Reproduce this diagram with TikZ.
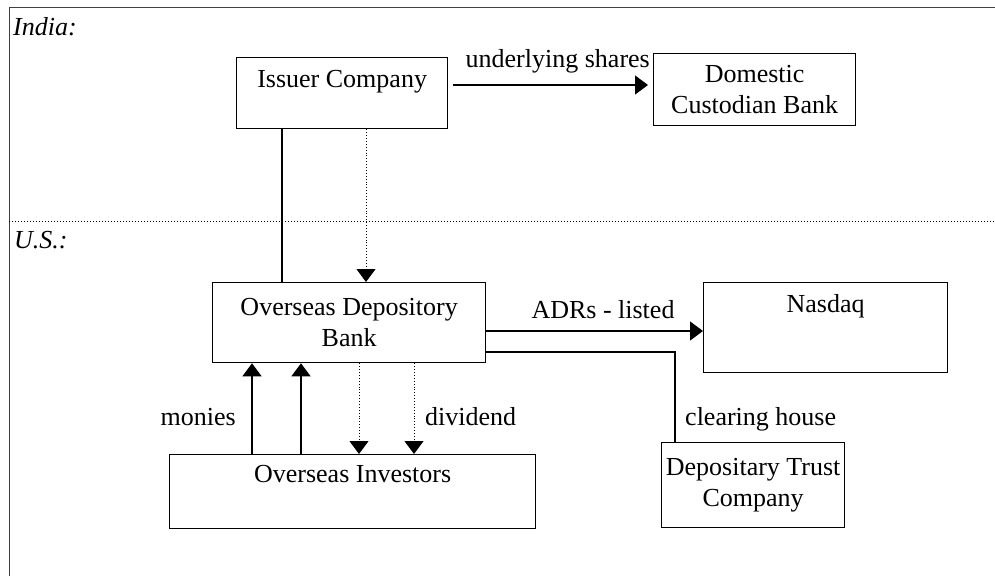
\documentclass[tikz,border=0pt]{standalone}
\usepackage{fontspec}
\setmainfont{Liberation Serif}
\usetikzlibrary{arrows.meta,calc}
\usetikzlibrary{positioning}
\tikzset{box/.style={draw,line width=1.3pt,inner sep=0pt,align=center,anchor=north west},
  conn/.style={line width=1.2pt},
  dots/.style={dotted,line width=0.9pt},
  lbl/.style={inner sep=0pt}}

\begin{document}
\begin{tikzpicture}[x=1pt,y=-1pt,>={Triangle[length=13pt,width=19pt]},line join=miter,font=\fontsize{26}{30.5}\selectfont]
\useasboundingbox (0,0) rectangle (995,576);
% --- frame, India / U.S. split
\draw[line width=1pt,black!75] (995,7) -- (9,7) -- (9,576);
\draw[dotted,line width=1pt] (9,221) -- (995,221);
\node[lbl,anchor=base west,font=\fontsize{26}{30.5}\selectfont\itshape] (india) at (13,35) {India:};
\node[lbl,anchor=base west,font=\fontsize{26}{30.5}\selectfont\itshape] (us) at (14,248) {U.S.:};
% --- boxes
\node[box,minimum width=211pt,text height=30pt,text depth=41pt] (issuer) at (236,57) {Issuer Company};
\node[box,minimum width=202pt,minimum height=72pt] (custodian) at (653,53) {Domestic\\Custodian Bank};
\node[box,minimum width=273pt,minimum height=80pt] (depbank) at (212,282) {Overseas Depository\\Bank};
\node[box,minimum width=244pt,text height=30pt,text depth=60pt] (nasdaq) at (703,282) {Nasdaq};
\node[box,minimum width=183pt,minimum height=85pt] (dtc) at (661,442) {Depositary Trust\\Company};
\node[box,minimum width=366pt,text height=28pt,text depth=46pt] (investors) at (169,454) {Overseas Investors};
% --- India side
\draw[conn,->] ($(issuer.east |- 0,85)+(5,0)$) -- ($(custodian.west |- 0,85)+(-5,0)$);
\node[lbl,anchor=base east] (shares) at (650,67) {underlying shares};
\draw[conn] (issuer.south -| 282,0) -- (depbank.north -| 282,0);
\draw[dots,->] (issuer.south -| 366,0) -- (depbank.north -| 366,0);
% --- U.S. side
\draw[conn,->] (depbank.east |- 0,331) -- (nasdaq.west |- 0,331);
\node[lbl,anchor=base] (listed) at (603,318) {ADRs - listed};
\draw[conn] (depbank.east |- 0,352) -| (dtc.north -| 675,0);
\node[lbl,anchor=base west] (clearing) at (685,425) {clearing house};
\foreach \x in {252,301} \draw[conn,->] (investors.north -| \x,0) -- (depbank.south -| \x,0);
\foreach \x in {359,414} \draw[dots,->] (depbank.south -| \x,0) -- (investors.north -| \x,0);
\node[lbl,anchor=base east] (monies) at (236,425) {monies};
\node[lbl,anchor=base west] (dividend) at (425,425) {dividend};
\end{tikzpicture}
\end{document}
